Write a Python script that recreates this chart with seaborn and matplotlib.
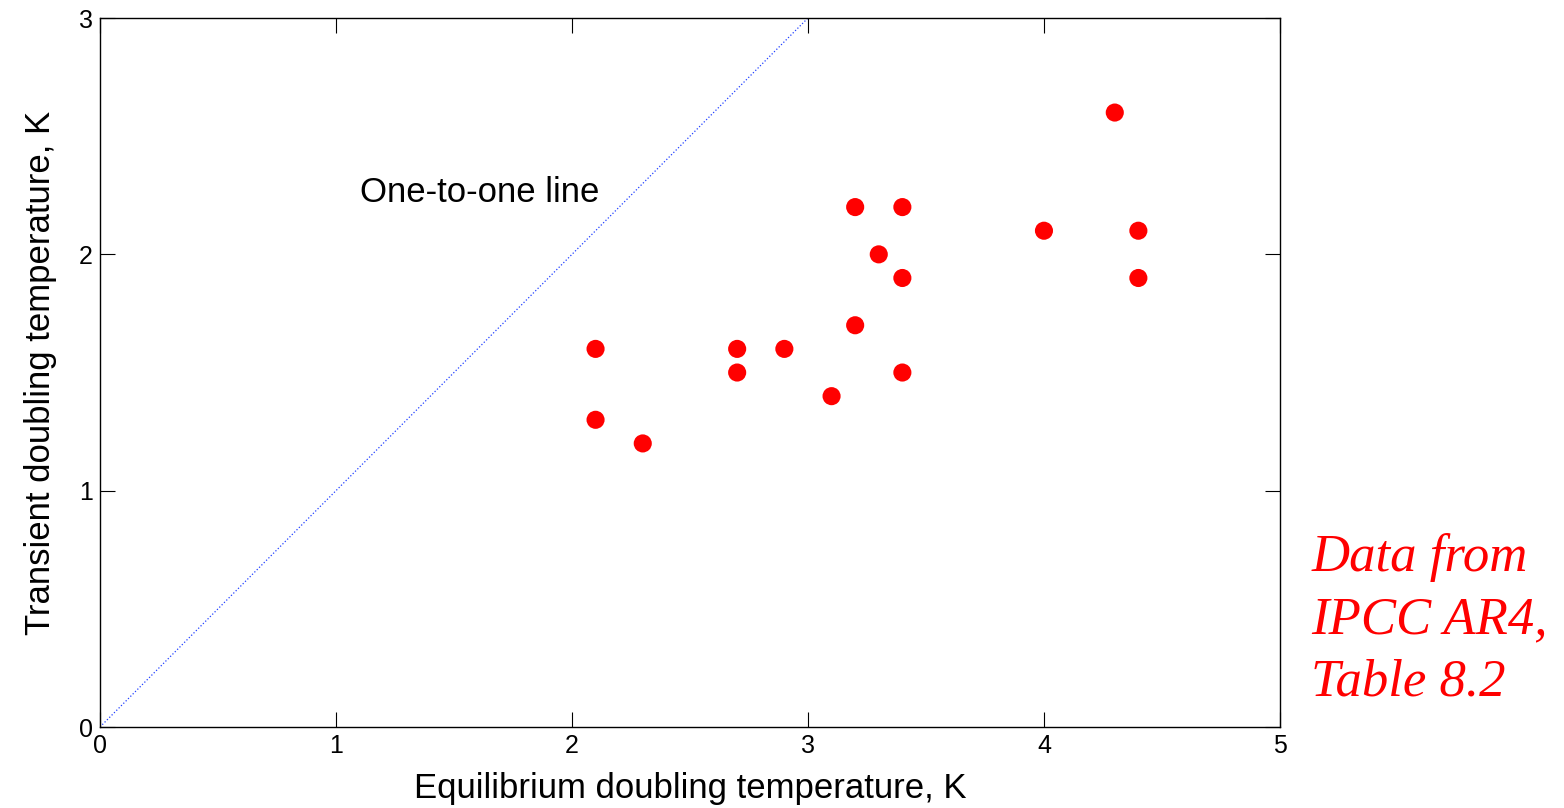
import matplotlib
matplotlib.use("Agg")
import matplotlib.pyplot as plt
import seaborn as sns
import pandas as pd

# equilibrium vs transient doubling temperature (IPCC AR4 Table 8.2)
equilibrium = [2.1, 2.1, 2.3, 2.7, 2.7, 2.9, 3.1, 3.2, 3.2, 3.3, 3.4, 3.4, 3.4, 4.0, 4.3, 4.4, 4.4]
transient = [1.6, 1.3, 1.2, 1.6, 1.5, 1.6, 1.4, 2.2, 1.7, 2.0, 2.2, 1.9, 1.5, 2.1, 2.6, 2.1, 1.9]
one_to_one = [0, 3]
x_ticks = [0, 1, 2, 3, 4, 5]
y_ticks = [0, 1, 2, 3]

df = pd.DataFrame({"equilibrium": equilibrium, "transient": transient})

sns.set_style("ticks")
plt.rcParams["font.family"] = ["Liberation Sans", "DejaVu Sans"]
plt.rcParams["text.color"] = "black"
plt.rcParams["axes.labelcolor"] = "black"
plt.rcParams["xtick.color"] = "black"
plt.rcParams["ytick.color"] = "black"

fig = plt.figure(figsize=(15.64, 8.08), dpi=100)
ax = fig.add_axes([0.0639, 0.1002, 0.7545, 0.8775])

sns.lineplot(x=one_to_one, y=one_to_one, ax=ax, color="#2040ff", linestyle=":", linewidth=0.9)
sns.scatterplot(data=df, x="equilibrium", y="transient", ax=ax, color="red", s=170,
                edgecolor="none", zorder=3)

ax.set_xlim(0, 5)
ax.set_ylim(0, 3)
ax.set_xticks(x_ticks)
ax.set_yticks(y_ticks)
ax.set_xticklabels([str(t) for t in x_ticks], fontsize=18)
ax.set_yticklabels([str(t) for t in y_ticks], fontsize=18)
ax.tick_params(direction="in", length=11, width=0.8, pad=5,
               top=True, right=True, color="black", labelcolor="black")
for sp in ax.spines.values():
    sp.set_linewidth(1.0)
    sp.set_color("black")

ax.set_xlabel("Equilibrium doubling temperature, K", fontsize=25, labelpad=10)
ax.set_ylabel("Transient doubling temperature, K", fontsize=25, labelpad=16)

ax.text(1.1, 2.26, "One-to-one line", fontsize=25, va="center", ha="left")

fig.text(0.8385, 0.34, "Data from\nIPCC AR4,\nTable 8.2", color="red", fontsize=38,
         family=["Liberation Serif"], style="italic", ha="left", va="top", linespacing=1.38)

fig.savefig("out.png", dpi=100)
